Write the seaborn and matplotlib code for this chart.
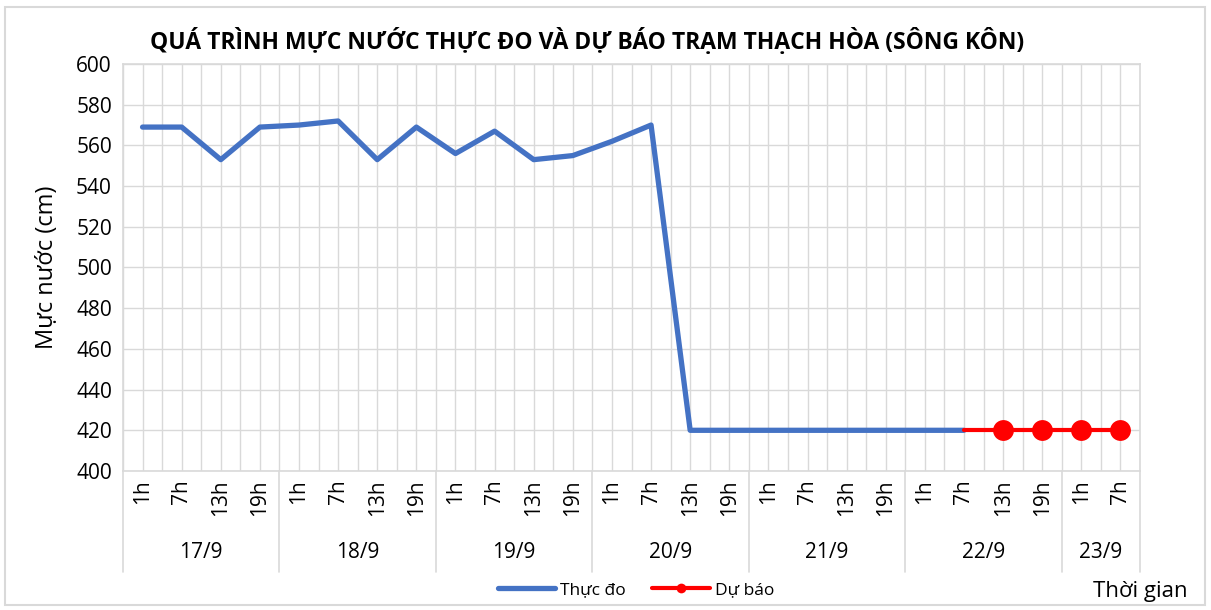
import matplotlib.pyplot as plt
import matplotlib.patches as mpatches
import matplotlib.transforms as mtransforms
import pandas as pd
import seaborn as sns

# Du lieu doc tu bieu do
days = ["17/9", "18/9", "19/9", "20/9", "21/9", "22/9", "23/9"]
hours_per_day = [["1h", "7h", "13h", "19h"]] * 6 + [["1h", "7h"]]
thuc_do = [569, 569, 553, 569, 570, 572, 553, 569, 556, 567, 553, 555,
           562, 570, 420, 420, 420, 420, 420, 420, 420, 420]
du_bao = [420, 420, 420, 420, 420]
du_bao_start = 21  # 22/9 7h

hour_labels = [h for hs in hours_per_day for h in hs]
n = len(hour_labels)

df_obs = pd.DataFrame({"x": range(len(thuc_do)), "y": thuc_do})
df_fc = pd.DataFrame({"x": range(du_bao_start, du_bao_start + len(du_bao)), "y": du_bao})

sns.set_style("white")
plt.rcParams["font.family"] = ["Open Sans", "DejaVu Sans"]
plt.rcParams["text.color"] = "black"
plt.rcParams["axes.labelcolor"] = "black"
plt.rcParams["xtick.color"] = "black"
plt.rcParams["ytick.color"] = "black"

fig = plt.figure(figsize=(12.11, 6.10), dpi=100)
ax = fig.add_axes([123 / 1211, 1 - 471 / 610, (1140 - 123) / 1211, (471 - 64) / 610])

sns.lineplot(data=df_obs, x="x", y="y", ax=ax, color="#4472C4", linewidth=3.8,
             label="Thực đo")
sns.lineplot(data=df_fc, x="x", y="y", ax=ax, color="#FF0000", linewidth=3.0,
             marker="o", markersize=15, markeredgewidth=0, markevery=[1, 2, 3, 4],
             label="Dự báo")

ax.set_xlim(-0.5, n - 0.5)
ax.set_ylim(400, 600)
ax.set_yticks(range(400, 601, 20))
ax.tick_params(axis="y", labelsize=15, length=0, pad=8)
ax.set_xticks(range(n))
ax.set_xticks([i - 0.5 for i in range(n + 1)], minor=True)
ax.set_xticklabels(hour_labels, rotation=90, fontsize=15)
ax.tick_params(axis="x", which="both", length=0, pad=6)
ax.grid(True, which="major", axis="both", color="#d9d9d9", linewidth=1)
ax.grid(True, which="minor", axis="x", color="#d9d9d9", linewidth=1)
for s in ax.spines.values():
    s.set_color("#d9d9d9")
    s.set_linewidth(1.2)
ax.set_xlabel("")
ax.set_ylabel("Mực nước (cm)", fontsize=17, labelpad=12)

# nhom ngay
trans = mtransforms.blended_transform_factory(ax.transData, ax.transAxes)
pos = -0.5
bounds = [pos]
for d, hs in zip(days, hours_per_day):
    start = pos
    pos += len(hs)
    bounds.append(pos)
    ax.text((start + pos) / 2, -0.201, d, transform=trans, ha="center", va="center",
            fontsize=15)
for b in bounds:
    ax.plot([b, b], [0, -0.248], transform=trans, color="#d9d9d9", linewidth=1.2,
            clip_on=False)

ax.set_title("QUÁ TRÌNH MỰC NƯỚC THỰC ĐO VÀ DỰ BÁO TRẠM THẠCH HÒA (SÔNG KÔN)",
             fontsize=16.5, fontweight="bold", pad=11, x=0.456)

leg = ax.legend(loc="center", bbox_to_anchor=(636 / 1211, 1 - 590 / 610),
                bbox_transform=fig.transFigure, ncol=2, frameon=False, fontsize=12.5,
                handlelength=3.3, columnspacing=1.5, handletextpad=0.3)
leg.legend_handles[1].set_markersize(7)

fig.text(1188 / 1211, 1 - 592 / 610, "Thời gian", ha="right", va="center", fontsize=16)

fig.patches.append(mpatches.Rectangle((5 / 1211, 5 / 610), 1200 / 1211, 598 / 610,
                                      transform=fig.transFigure, fill=False,
                                      edgecolor="#d9d9d9", linewidth=1.5))

fig.savefig("out.png", dpi=100)
